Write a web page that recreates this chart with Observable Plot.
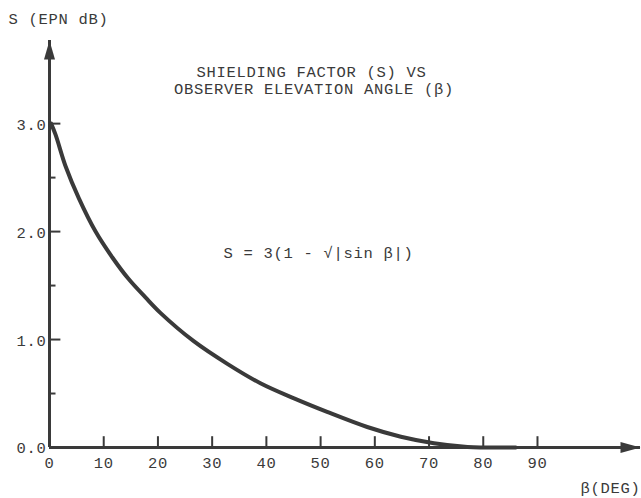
<!DOCTYPE html>
<html>
<head>
<meta charset="utf-8">
<script src="https://cdn.jsdelivr.net/npm/d3@7"></script>
<script src="https://cdn.jsdelivr.net/npm/@observablehq/plot@0.6"></script>
<style>
  html, body { margin: 0; padding: 0; background: #fff; }
  #chart svg { display: block; }
</style>
</head>
<body>
<div id="chart"></div>
<script>
// Elevation angle β (deg) and shielding factor S (EPN dB)
const beta = [0.3, 1.1, 3.0, 5.4, 8.5, 11.6, 14.6, 17.7, 20.5, 26.6, 32.8, 38.9, 45.1, 51.2, 58.6, 64.8, 70.9, 77.1, 80, 86];
const shield = [3.0, 2.9, 2.6, 2.31, 2.0, 1.76, 1.56, 1.39, 1.245, 0.985, 0.775, 0.595, 0.455, 0.33, 0.19, 0.10, 0.04, 0.005, 0.0, 0.0];

// Tick values
const xTicks = [10, 20, 30, 40, 50, 60, 70, 80, 90];
const xTickLabels = [0, 10, 20, 30, 40, 50, 60, 70, 80, 90];
const yMajorTicks = [1, 2, 3];
const yMinorTicks = [0.5, 1.5, 2.5];
const yTickLabels = [0, 1, 2, 3];

// Texts
const yAxisLabel = "S (EPN dB)";
const xAxisLabel = "β(DEG)";
const titleLines = ["SHIELDING FACTOR (S) VS", "OBSERVER ELEVATION ANGLE (β)"];
const formula = "S = 3(1 - √|sin β|)";

// Axis extents (arrow tips)
const xMax = 109;
const yMax = 3.77;

const data = beta.map((b, i) => ({beta: b, s: shield[i]}));

const ink = "#3a3a3a";
const font = "Liberation Mono, DejaVu Sans Mono, monospace";
const fs = 15.5;

const arrowUp = {draw(ctx) { ctx.moveTo(0, 0); ctx.lineTo(-5.5, 19); ctx.lineTo(5.5, 19); ctx.closePath(); }};
const arrowRight = {draw(ctx) { ctx.moveTo(0, 0); ctx.lineTo(-20, -5.5); ctx.lineTo(-20, 5.5); ctx.closePath(); }};

const txt = {fontSize: fs, fill: ink, lineAnchor: "middle"};

const chart = Plot.plot({
  width: 641,
  height: 498,
  marginLeft: 49,
  marginRight: 1,
  marginTop: 40,
  marginBottom: 51,
  style: {fontFamily: font, fontSize: fs + "px", color: ink, background: "#fff", letterSpacing: "0.7px"},
  x: {domain: [0, xMax]},
  y: {domain: [0, yMax]},
  marks: [
    // axis lines
    Plot.ruleX([0], {stroke: ink, strokeWidth: 3}),
    Plot.ruleY([0], {stroke: ink, strokeWidth: 3}),
    // arrow heads
    Plot.dot([{x: 0, y: yMax}], {x: "x", y: "y", symbol: arrowUp, fill: ink, stroke: "none"}),
    Plot.dot([{x: xMax, y: 0}], {x: "x", y: "y", symbol: arrowRight, fill: ink, stroke: "none"}),
    // tick marks (inside the axes)
    Plot.ruleX(xTicks, {x: d => d, y1: 0, y2: 0.1, stroke: ink, strokeWidth: 2}),
    Plot.ruleY(yMajorTicks, {y: d => d, x1: 0, x2: 2.1, stroke: ink, strokeWidth: 2}),
    Plot.ruleY(yMinorTicks, {y: d => d, x1: 0, x2: 1.2, stroke: ink, strokeWidth: 2}),
    // tick labels
    Plot.axisX(xTickLabels, {tickSize: 0, tickPadding: 9, fontSize: fs, fill: ink, label: null}),
    Plot.axisY(yTickLabels, {tickSize: 0, tickPadding: 3, dy: 1, fontSize: fs, fill: ink, label: null, tickFormat: d => d.toFixed(1)}),
    // curve
    Plot.line(data, {x: "beta", y: "s", curve: "catmull-rom", stroke: ink, strokeWidth: 4}),
    // texts
    Plot.text([yAxisLabel], {...txt, text: d => d, frameAnchor: "top-left", textAnchor: "start", dx: -41, dy: -21}),
    Plot.text([xAxisLabel], {...txt, text: d => d, frameAnchor: "bottom-right", textAnchor: "end", dy: 41}),
    Plot.text([titleLines[0]], {...txt, text: d => d, frameAnchor: "top", dx: -33.5, dy: 32}),
    Plot.text([titleLines[1]], {...txt, text: d => d, frameAnchor: "top", dx: -31, dy: 49}),
    Plot.text([formula], {...txt, text: d => d, frameAnchor: "top", dx: -26.5, dy: 213})
  ]
});
document.getElementById("chart").appendChild(chart);
</script>
</body>
</html>
